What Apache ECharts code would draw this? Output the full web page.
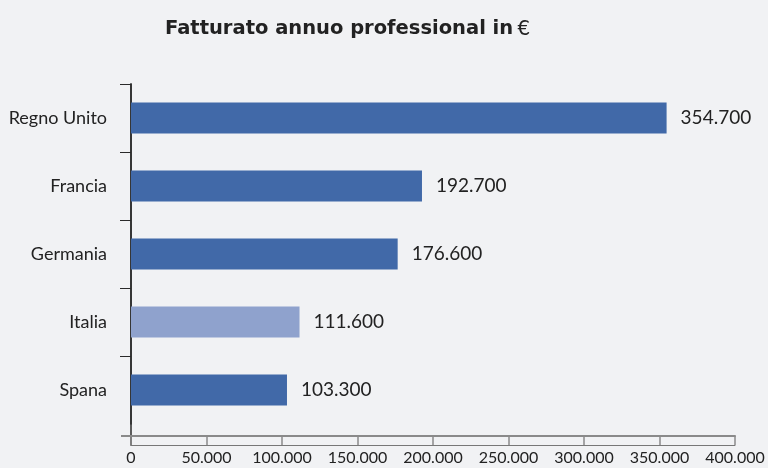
<!DOCTYPE html>
<html>
<head>
<meta charset="utf-8">
<script src="https://cdn.jsdelivr.net/npm/echarts@6/dist/echarts.min.js"></script>
<style>
  html, body { margin: 0; padding: 0; background: #f1f2f4; }
  #chart { width: 768px; height: 468px; }
</style>
</head>
<body>
<div id="chart"></div>
<script>
// dati (dal basso verso l'alto)
const paesi = ['Spana', 'Italia', 'Germania', 'Francia', 'Regno Unito'];
const fatturato = [103300, 111600, 176600, 192700, 354700];
const evidenziato = 'Italia';
const tickAsse = ['0', '50.000', '100.000', '150.000', '200.000', '250.000', '300.000', '350.000', '400.000'];

const FONT = 'Lato';
const blu = '#4169a8';
const bluChiaro = '#8fa2cd';
const scuro = '#2a2a2a';
const grigio = '#8a8a8a';

function formatEuro(v) {
  return String(v).replace(/\B(?=(\d{3})+(?!\d))/g, '.');
}

const myChart = echarts.init(document.getElementById('chart'));

const option = {
  backgroundColor: '#f1f2f4',
  textStyle: { fontFamily: FONT, color: '#222' },
  title: {
    text: '{b|Fatturato annuo professional in} {e|€}',
    left: 160,
    top: 13,
    textStyle: {
      rich: {
        b: { fontFamily: 'DejaVu Sans', fontWeight: 'bold', fontSize: 19.5, color: '#222' },
        e: { fontFamily: FONT, fontWeight: 'normal', fontSize: 21, color: '#222' }
      }
    }
  },
  grid: [
    { left: 131, right: 33, top: 84, bottom: 44 },  // barre
    { left: 131, right: 33, top: 84, bottom: 32 },  // asse x con etichette
    { left: 131, right: 33, top: 84, bottom: 23 }   // linea inferiore
  ],
  xAxis: [
    { gridIndex: 0, type: 'value', min: 0, max: 400000, show: false },
    {
      gridIndex: 1,
      type: 'value',
      min: 0,
      max: 400000,
      interval: 50000,
      axisLine: { show: true, lineStyle: { color: grigio, width: 2 } },
      axisTick: { show: true, length: 9, lineStyle: { color: grigio, width: 1.5 } },
      splitLine: { show: false },
      axisLabel: {
        fontFamily: FONT,
        fontSize: 16,
        color: '#222',
        margin: 14,
        formatter: function (v) { return tickAsse[Math.round(v / 50000)]; }
      }
    },
    {
      gridIndex: 2,
      type: 'value',
      min: 0,
      max: 400000,
      axisLine: { show: true, lineStyle: { color: '#777', width: 1 } },
      axisTick: { show: false },
      axisLabel: { show: false },
      splitLine: { show: false }
    }
  ],
  yAxis: [
    {
      gridIndex: 0,
      type: 'category',
      data: paesi,
      axisLine: { show: true, lineStyle: { color: scuro, width: 1.5 } },
      axisTick: {
        show: true,
        length: 11,
        interval: function (i) { return i !== 0; },
        lineStyle: { color: scuro }
      },
      axisLabel: { fontFamily: FONT, fontSize: 18, color: '#222', margin: 24 }
    },
    {
      gridIndex: 1,
      type: 'value',
      min: 0,
      max: 1,
      axisLine: { show: false },
      axisTick: { show: true, customValues: [0], length: 10, lineStyle: { color: grigio, width: 2 } },
      axisLabel: { show: false },
      splitLine: { show: false }
    },
    {
      gridIndex: 2,
      type: 'value',
      min: 0,
      max: 1,
      axisLine: { show: true, lineStyle: { color: scuro, width: 1.5 } },
      axisTick: { show: false },
      axisLabel: { show: false },
      splitLine: { show: false }
    }
  ],
  series: [
    {
      type: 'bar',
      xAxisIndex: 0,
      yAxisIndex: 0,
      barWidth: 31,
      data: fatturato.map(function (v, i) {
        return {
          value: v,
          itemStyle: { color: paesi[i] === evidenziato ? bluChiaro : blu }
        };
      }),
      label: {
        show: true,
        position: 'right',
        distance: 14,
        fontFamily: FONT,
        fontSize: 19,
        color: '#222',
        formatter: function (p) { return formatEuro(p.value); }
      },
      animation: false
    }
  ],
  animation: false
};

myChart.setOption(option);
</script>
</body>
</html>
